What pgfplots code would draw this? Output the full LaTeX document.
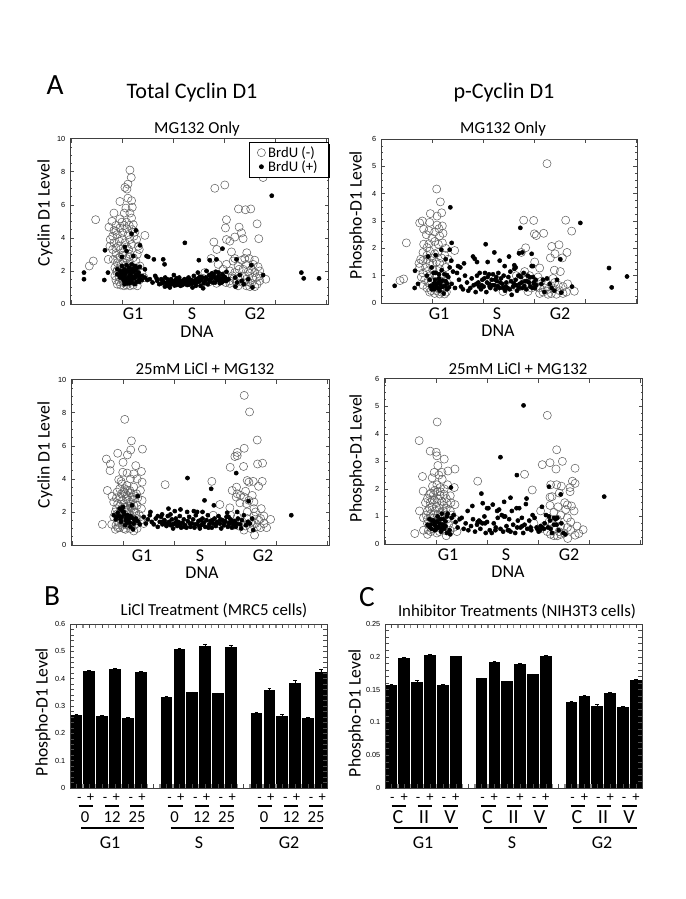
\documentclass[border=0pt]{standalone}
\usepackage{fontspec}
\setmainfont{Carlito}
\newfontfamily\arial{Liberation Sans}
\usepackage{pgfplots}
\pgfplotsset{compat=1.18}
\usetikzlibrary{shadows}

\pgfplotsset{
  frame/.style={
    scale only axis, axis line style={black!75,line width=0.5pt},
    tick style={black!70,line width=0.4pt},
    major tick length=3pt, minor tick length=1.5pt, tick align=inside,
    xtick pos=both, ytick pos=both,
    /pgf/number format/assume math mode=true,
    yticklabel style={font=\fontsize{5.5}{6}\selectfont\arial},
  },
  dna/.style={frame, width=194pt, height=124pt, ymin=0, xticklabels={}, minor tick num=3},
  neg/.style={only marks, mark=o, mark size=3.05pt, mark options={draw=black!62,line width=0.4pt}},
  pos/.style={only marks, mark=*, mark size=1.55pt, mark options={fill=black,draw=none}},
  bars/.style={frame, width=193pt, height=123pt, ymin=0, axis on top, xmin=-0.5, xmax=19.5,
    xtick={0,...,19}, minor x tick num=1, minor y tick num=4, minor tick length=3pt,
    every minor x tick/.append style={black!45,line width=1pt},
    xticklabel style={font=\fontsize{10}{10}\selectfont\arial, inner sep=0pt, text height=7pt, text depth=0pt, yshift=-2.6pt},
  },
  bar/.style={ybar, bar width=8pt, bar shift=0pt, fill=black, draw=black, line width=0pt,
    error bars/.cd, y dir=plus, y explicit, error bar style={black,line width=0.4pt},
    error mark options={rotate=90,mark size=1.4pt,black,line width=0.4pt}},
}
\newcommand{\lab}[1]{\fontsize{#1}{#1}\selectfont}
% tick signs sit a little right of their bars
\newcommand{\mb}{\hspace*{4.5pt}-}
\newcommand{\pb}{\hspace*{2pt}+}
\newcommand{\mc}{\hspace*{1.5pt}-}

\begin{document}
\begin{tikzpicture}
\useasboundingbox (0,0) rectangle (513.75pt,-674.25pt);

% top left
\begin{axis}[dna, at={(52.5pt,-228pt)}, ymax=10, xmin=120, xmax=897,
  xtick={125,278,430,583,738,890}, ytick={0,2,...,10},
  legend style={at={(1,0.98)}, anchor=north east, draw=black, line width=0.5pt, fill=white,
    drop shadow={shadow xshift=1pt,shadow yshift=-1pt,fill=black,opacity=1},
    font=\lab{11}, inner xsep=6pt, inner ysep=1pt, row sep=-3pt, legend cell align=left,
    /tikz/every even column/.append style={column sep=6pt}}]
\addplot[neg] coordinates {(178,2.3)(190,2.6)(197,5.1)(300,8.1)(304,7.65)(294,7.25)(285,7.05)(291,6.95)(294,6.4)(270,6.2)(305,6.25)(307,5.85)(288,5.8)(252,5.5)(283,5.5)(300,5.5)(305,5.2)(270,5.15)(246,5)(276,4.95)(290,4.95)(258,4.75)(310,4.8)(237,4.65)(270,4.6)(290,4.55)(252,4.45)(306,4.5)(315,4.35)(345,4.15)(262,4.2)(295,4.2)(241,3.9)(276,3.95)(300,3.9)(320,3.9)(252,3.7)(285,3.7)(240,3.5)(265,3.5)(305,3.6)(325,3.5)(248,3.3)(272,3.3)(296,3.3)(328,3.3)(258,3.05)(280,3.1)(300,3)(322,3)(235,2.7)(250,2.7)(270,2.85)(290,2.75)(310,2.8)(262,2.5)(280,2.5)(300,2.5)(255,2.2)(270,2.2)(290,2.2)(310,2.2)(330,2.3)(260,1.95)(280,1.9)(300,1.9)(320,1.9)(255,1.7)(268,1.6)(285,1.6)(305,1.6)(320,1.6)(268,1.35)(272,1.15)(290,1.15)(310,1.15)(322,1.1)(300,1.3)(280,1.3)
(258,4.4)(278,4.3)(283,4.75)(298,4.75)(248,4.1)(268,3.8)(312,4.1)(290,3.45)(258,3.4)(278,2.95)(263,2.75)(298,2.85)(318,2.6)(273,2.4)(288,2.35)(262,2.05)(312,2.05)(292,1.75)(274,1.8)(258,1.45)(276,1.5)(294,1.45)(312,1.4)(328,1.45)(262,1.2)(282,1.1)(300,1.1)(342,1.6)(336,1.9)
(555,7)(585,7.2)(700,7.65)(626,5.75)(647,5.7)(663,5.75)(590,5.1)(587,4.6)(628,4.65)(682,4.85)(635,4.3)(615,4.05)(640,3.95)(590,3.9)(600,3.8)(687,3.95)(552,3.75)(561,3.3)(605,3.15)(651,3.1)(544,2.75)(615,2.75)(636,2.65)(658,2.75)(675,2.65)(590,2.4)(565,2.4)(625,2.3)(650,2.4)(685,2.25)(580,2.1)(600,2)(640,2.1)(665,2.1)(690,2)(525,1.9)(555,1.8)(585,1.75)(615,1.9)(660,1.85)(520,1.55)(545,1.55)(575,1.5)(600,1.4)(630,1.6)(650,1.5)(680,1.6)(708,1.5)(600,1.25)(640,1.3)(665,1.25)(675,1.05)(650,1.1)(690,1.4)
(610,2.6)(645,2.75)(670,2.4)(628,2.1)(655,1.95)(675,1.9)(608,1.7)(645,1.7)(668,1.6)(690,1.7)(620,1.3)(655,1.35)(682,1.2)(612,1.55)(588,1.3)(560,1.25)(535,1.3)(505,1.35)(490,1.2)(625,1.1)(660,1.05)};
\addlegendentry{BrdU (-)}
\addplot[pos] coordinates {(162,1.9)(162,1.5)(225,3.25)(223,1.45)(234,1.9)(318,4.45)(305,4.25)(330,3.55)(285,3.45)(465,3.7)(578,3.35)(726,6.55)(815,1.9)(822,1.55)(868,1.55)(400,2.7)(404,2.4)(372,2.7)(350,2.9)(355,2.85)(507,2.65)(540,2.65)(560,2.7)(620,2.7)(665,2.35)(700,1.75)(276,2.85)(290,3.2)(310,2.9)
(262,2.1)(270,2.02)(276,2.3)(284,2.1)(290,2.35)(297,2.2)(305,2.4)(315,2.3)(322,2.2)(330,2.25)(345,2.1)(262,1.8)(270,1.7)(278,1.9)(286,1.8)(294,1.95)(302,1.8)(310,1.95)(318,1.8)(326,1.9)(336,1.7)(280,1.5)(288,1.35)(296,1.6)(304,1.45)(312,1.55)(320,1.35)(328,1.5)(284,1.2)(298,1.25)(315,1.2)(270,1.6)(345,1.6)(278,1.7)(283,1.62)(291,1.55)(299,1.72)(307,1.65)(316,1.62)(273,1.9)(281,2.02)(289,2)(300,1.98)(308,2.12)(318,2.05)(325,1.7)(292,1.25)(306,1.3)(282,1.4)(300,1.38)(328,1.35)(336,1.45)
(352,1.45)(360,1.5)(368,1.3)(376,1.7)(382,1.4)(388,1.2)(394,1.5)(400,1.3)(406,1.6)(412,1.1)(416,1.35)(420,1)(424,1.5)(428,1.25)(432,1.75)(436,1.4)(440,1.15)(444,1.3)(448,1.6)(452,1.1)(456,1.4)(460,1.25)(464,1.5)(468,1.35)(472,1.15)(476,1.6)(480,1.3)(484,1.45)(488,1)(492,1.7)(496,1.25)(500,1.5)(504,1.9)(508,1.35)(512,1.1)(518,1.6)(522,1.25)(526,1.4)(530,2)(534,1.2)(538,1.75)(542,1.5)(546,1.85)(550,1.3)(554,1.6)(558,1.95)(562,1.45)(566,1.7)(570,1.25)(574,1.55)(578,1.8)(582,1.4)(586,1.6)(590,1.95)(616,1.6)(622,1.3)(630,1.75)(636,1.4)(642,1.2)(655,1.5)(668,1)(617,1.05)(520,.95)(420,1.2)(405,1.05)(490,1.3)(445,1.45)(380,1.55)(440,1.55)(475,1.35)(395,1.25)(548,1.6)(572,1.4)
(398,1.42)(408,1.28)(414,1.48)(422,1.22)(427,1.38)(434,1.12)(438,1.28)(442,1.4)(447,1.18)(450,1.34)(458,1.15)(461,1.42)(466,1.22)(470,1.46)(474,1.25)(478,1.18)(482,1.4)(486,1.24)(494,1.42)(498,1.1)(502,1.32)(506,1.55)(510,1.65)(514,1.45)(528,1.6)(532,1.5)(544,1.65)(552,1.75)(560,1.55)(568,1.45)(576,1.3)(584,1.65)(590,1.4)(596,1.5)(556,1.3)(540,1.35)(548,1.8)(566,1.9)(580,1.55)};
\addlegendentry{BrdU (+)}
\end{axis}

% top right
\begin{axis}[dna, at={(285.75pt,-227.25pt)}, width=192pt, height=123pt, ymax=6, xmin=124, xmax=892,
  xtick={125,278,431,585,738,890}, ytick={0,...,6}]
\addplot[neg] coordinates {(181,.82)(192,.88)(200,2.2)(291,4.17)(302,3.7)(272,3.27)(306,3.3)(292,3.18)(240,2.93)(248,3)(270,2.95)(292,2.85)(308,2.82)(252,2.7)(268,2.65)(310,2.55)(300,2.45)(277,2.37)(252,2.15)(268,2.17)(296,2.15)(318,2)(345,1.92)(270,1.9)(250,1.85)(285,1.8)(243,1.6)(305,1.65)(325,1.6)(250,1.55)(270,1.45)(290,1.5)(258,1.3)(280,1.2)(300,1.25)(250,1.1)(270,1)(290,1)(255,.85)(275,.8)(305,.8)(320,.8)(262,.55)(275,.45)(290,.45)(305,.4)(320,.4)(270,.4)(240,1.3)
(260,2.5)(285,2.6)(298,2.72)(262,2.03)(285,2.25)(308,2.2)(262,1.75)(278,1.65)(295,1.85)(315,1.75)(238,1.45)(262,1.6)(280,1.45)(300,1.45)(318,1.3)(262,1.15)(285,1.05)(310,1.05)(245,.95)(265,.75)(290,.7)(250,.65)(280,.6)(310,.6)(285,.35)(300,.33)(315,.33)
(622,5.1)(552,3.03)(582,3.02)(678,3.03)(584,2.53)(590,2.47)(612,2.55)(696,2.63)(636,2.07)(658,2.13)(558,2.02)(632,1.65)(646,1.8)(668,1.65)(682,1.85)(545,1.85)(585,1.5)(600,1.28)(644,1.2)(662,1.15)(555,1.15)(530,1)(570,1)(605,.8)(640,.9)(620,.7)(684,.7)(704,.43)(656,.65)(590,.6)(610,.4)(635,.35)(650,.32)(670,.35)(600,.35)(565,.42)(540,.6)(515,.6)(490,.42)(625,.5)(670,.6)(580,.8)
(560,.85)(595,.95)(615,.55)(640,.55)(660,.45)(680,.4)(645,.75)(600,.55)(625,.32)(575,.55)};
\addplot[pos] coordinates {(332,3.5)(336,2.2)(438,2.15)(542,2.75)(722,2.93)(808,1.28)(862,.97)(816,.57)(165,.63)(226,1.18)(225,.55)(235,.7)(464,1.85)(508,1.7)(480,1.55)(400,1.7)(405,1.62)(548,1.85)(538,1.82)(576,1.8)(662,1.6)(330,1.95)(305,1.95)(265,1.7)(288,1.75)(318,1.6)(335,1.55)(355,1.35)(373,1.45)(362,1.3)(412,1.5)(444,1.5)(495,1.35)(524,1.38)(528,1.3)(580,1.35)(697,.6)(665,.38)(610,.85)
(262,1)(270,.85)(276,1.3)(282,.7)(288,1.1)(294,.55)(298,.9)(302,.7)(306,1.2)(310,.6)(314,1.05)(318,.8)(322,.5)(326,.95)(330,1.3)(336,.7)(340,1.15)(346,.55)(352,1.1)(358,.85)(364,.6)(370,.5)(376,1)(382,.75)(386,.45)(392,.55)(396,.9)(402,.65)(408,.4)(412,1)(416,.75)(420,1.1)(424,.5)(428,.85)(432,.6)(436,1.1)(440,.4)(444,.95)(448,.7)(452,.55)(456,.85)(460,1.05)(464,.65)(468,.5)(472,.8)(476,1.1)(480,.55)(484,.9)(488,.7)(492,1)(496,.45)(500,.75)(506,.95)(512,1.15)(516,.3)(520,.6)(524,1.25)(528,.85)(532,.45)(536,1)(540,.7)(544,.95)(548,.55)(552,1.1)(556,.8)(560,.5)(564,1)(568,.75)(572,.6)(576,1.35)(580,.95)(584,.7)(588,.85)(605,.7)(614,.4)(622,.9)(630,.7)(636,.55)(644,.45)(652,.85)(284,.5)(292,.7)(300,.45)(278,.6)(312,.35)(450,.6)(470,.95)(510,.5)(540,1)(586,.55)(300,.8)(282,1.1)
(272,.62)(280,.55)(286,.85)(290,.62)(296,.75)(304,.58)(308,.82)(316,.62)(322,.72)(328,.58)(284,.72)(276,.5)(298,1.05)(322,1.02)(410,.7)(418,.6)(426,.65)(434,.9)(442,.75)(448,1.05)(458,.65)(466,.85)(474,.62)(482,.75)(490,.55)(498,.6)(504,.55)(514,.8)(522,.72)(530,.65)(538,.55)(546,.75)(554,.62)(562,.8)(570,.95)(578,.55)(582,.75)(590,.65)};
\end{axis}

% middle left
\begin{axis}[dna, at={(53.25pt,-408.75pt)}, ymax=10, xmin=122, xmax=897,
  xtick={125,278,431,585,738,890}, ytick={0,2,...,10}]
\addplot[neg] coordinates {(216,1.25)(228,5.2)(240,4.9)(239,4.5)(283,7.6)(303,6.3)(301,5.75)(291,5.45)(262,5.55)(336,5.8)(278,5)(316,4.8)(333,4.45)(277,4.4)(290,4.35)(310,4.3)(265,3.95)(300,4)(320,4)(335,3.8)(231,3.3)(275,3.7)(290,3.6)(310,3.5)(260,3.2)(245,2.95)(330,3.3)(250,2.6)(270,2.9)(290,3)(310,3)(335,2.7)(262,2.5)(280,2.5)(300,2.5)(320,2.4)(333,2.2)(255,2)(270,2)(290,2)(310,2)(250,1.7)(265,1.6)(285,1.6)(300,1.65)(320,1.6)(244,1.25)(257,1.2)(275,1.2)(295,1.2)(312,1.2)(255,.95)(285,.95)(310,.85)(320,1)(340,1.3)(404,3.65)(544,3.85)(568,2.45)(548,1.8)
(268,3.4)(280,3.2)(298,3.3)(318,3.1)(272,3.85)(285,3.1)(300,3.15)(258,2.85)(276,2.7)(294,2.7)(308,2.75)(322,2.85)(268,2.35)(286,2.25)(304,2.25)(258,2.2)(276,1.85)(296,1.85)(316,1.95)(326,1.85)(262,1.4)(280,1.4)(298,1.45)(270,1.75)(290,1.35)(306,1.45)(268,1.05)(280,1)(300,1)(330,1.5)
(283,3.4)(292,3.3)(305,2.9)(273,3.1)(288,2.8)(300,2.35)(282,2.3)(272,2.15)(292,2.15)(310,2.4)(262,1.9)(280,1.75)(300,1.8)(318,1.75)(272,1.5)(288,1.45)(306,1.3)(320,1.3)(285,1.25)(262,1.05)
(641,9.05)(657,8.05)(680,6.35)(641,5.85)(620,5.6)(613,5.35)(620,5.4)(599,4.7)(639,4.75)(681,4.9)(696,4.95)(650,3.9)(668,3.85)(695,3.85)(618,3.5)(655,3.8)(684,3.55)(605,3.3)(620,3.1)(645,3.25)(617,2.9)(630,3)(665,3)(628,2.55)(648,2.5)(670,2.6)(692,2.2)(598,2.25)(670,2.2)(700,1.75)(720,1.55)(675,2)(650,2)(685,1.5)(700,1.3)(672,.6)(708,1.05)(690,1.05)(640,.9)(660,1)(600,1.8)(620,1.7)(675,1.3)(635,1.4)(580,1.3)(610,1.2)
(640,2.9)(655,2.7)(670,1.75)(650,1.6)(660,1.35)(690,1.6)(680,1.1)(665,1.25)(625,1.15)(645,1.15)(595,1.45)(565,1.3)};
\addplot[pos] coordinates {(471,4.05)(542,3.4)(617,4.35)(522,2.7)(550,2.4)(654,2.65)(782,1.8)(322,2.95)(305,2.4)(278,2.3)(414,2.2)(450,2.15)(433,2.05)(470,2)(490,2.05)(500,2)(516,2)(360,2)(395,1.85)(668,.9)(632,1)(620,2)
(250,1.8)(256,1.55)(262,1.95)(268,2.2)(274,1.7)(280,2)(286,1.5)(292,1.8)(298,1.35)(304,1.65)(310,1.3)(316,1.6)(322,1.45)(328,1.25)(272,1.4)(284,1.2)(300,1.1)(308,.95)(266,1.75)(276,2.05)(282,1.85)(288,1.65)(294,1.55)(300,1.75)(312,1.5)(258,1.7)(270,1.55)(290,1.35)
(340,1.7)(346,1.3)(352,1.55)(358,1.8)(364,1.4)(370,1.25)(376,1.6)(382,1.1)(388,1.4)(392,1.7)(396,1.25)(402,1.5)(408,1.15)(412,1.75)(416,1.4)(420,1.2)(424,1.55)(428,1)(432,1.3)(436,1.6)(440,1.15)(444,1.4)(448,1.75)(452,1.05)(456,1.35)(460,1.55)(464,1.2)(468,1.05)(472,1.45)(476,1.7)(480,1.1)(484,1.3)(488,1.55)(492,1.05)(496,1.8)(500,1.25)(504,1.45)(508,1)(512,1.2)(516,1.6)(520,1.35)(524,1.1)(528,1.5)(532,1.8)(536,1.25)(540,1.45)(544,1.05)(548,1.3)(552,1.6)(556,1.15)(560,1.4)(564,1.75)(568,1.3)(572,1)(576,1.5)(580,1.2)(584,1.45)(588,1.7)(592,1.1)(596,1.35)(600,1.55)(604,1.05)(608,1.25)(612,1.45)(616,1.1)(622,1.6)(628,1.25)(634,1.5)(640,1.8)(646,1.2)(652,1.4)(658,1.3)(665,1.6)(382,1.75)(420,1.85)(405,1.3)(445,1.25)(510,1.5)(590,1.95)(595,1.25)
(395,1.4)(410,1.3)(426,1.25)(438,1.4)(450,1.2)(462,1.1)(478,1.3)(494,1.25)(506,1.15)(518,1.3)(534,1.05)(546,1.5)(558,1.3)(570,1.55)(582,1.35)(594,1.7)(606,1.4)(618,1.3)};
\end{axis}

% middle right
\begin{axis}[dna, at={(288pt,-408pt)}, ymax=6, xmin=132, xmax=905,
  xtick={135,288,441,593,746,899}, ytick={0,...,6}]
\addplot[neg] coordinates {(224,.38)(237,3.75)(291,4.43)(270,3.37)(288,3.33)(290,3.2)(312,3.08)(247,2.45)(344,2.72)(293,2.85)(323,2.65)(305,2.6)(276,2.4)(306,2.35)(249,1.92)(277,2.1)(322,2.15)(342,2.05)(300,2.05)(280,1.8)(300,1.75)(330,1.75)(256,1.5)(238,1.2)(270,1.5)(290,1.5)(320,1.5)(344,1.43)(262,1.2)(285,1.2)(310,1.2)(330,1.2)(250,.95)(270,.95)(295,.9)(320,.9)(345,.9)(250,.5)(262,.35)(275,.65)(290,.4)(305,.65)(318,.3)(350,.45)(412,2.28)(552,2.53)(575,1.96)
(282,2.6)(296,2.5)(312,2)(290,2.15)(272,1.85)(292,1.9)(312,1.8)(262,1.65)(282,1.6)(305,1.55)(332,1.5)(275,1.35)(298,1.3)(318,1.3)(258,1.05)(280,1.05)(305,1)(335,1.05)(262,.75)(282,.8)(300,.75)(325,.7)(272,.45)(298,.45)(340,.6)
(268,1.8)(284,1.95)(300,1.9)(318,1.65)(276,1.6)(292,1.65)(310,1.4)(268,1.3)(288,1.35)(302,1.1)(272,1.1)(292,1.05)(315,1.05)(262,.9)(282,.95)(275,.55)(290,.6)(312,.5)(265,.5)(330,.5)
(620,4.67)(648,3.42)(605,2.88)(628,2.95)(665,3)(646,2.72)(703,2.75)(695,2.28)(703,2.2)(630,2.15)(648,2.15)(662,2.1)(688,2.05)(656,1.85)(688,1.9)(628,1.7)(634,1.72)(672,1.5)(680,1.42)(692,1.38)(628,1.4)(652,1.35)(640,1.15)(700,1.2)(680,.95)(600,1.2)(625,.8)(650,.9)(680,.6)(709,.65)(727,.52)(714,.38)(703,.32)(681,.2)(660,.35)(640,.3)(620,.45)(600,.55)(580,.75)(660,.65)(640,.55)
(675,1.25)(660,1.05)(690,.8)(610,.65)(635,.75)(655,.45)(690,.5)(630,.35)(670,.4)(650,.3)};
\addplot[pos] coordinates {(549,5.03)(480,3.15)(529,2.5)(625,2.08)(660,1.8)(790,1.72)(332,2.05)(423,1.83)(558,1.65)(491,1.53)(510,1.68)(427,1.48)(396,1.38)(457,1.43)(382,1.2)
(262,.7)(268,.9)(274,.55)(280,.85)(286,.65)(292,1)(298,.75)(304,.55)(310,.9)(316,.65)(322,1.1)(328,.5)(334,.95)(340,1.05)(272,.7)(284,.5)(296,.6)(308,.7)(320,.4)(330,.35)(276,.85)(283,.72)(290,.82)(294,.62)(300,.9)(306,.7)(312,.55)(288,.55)(302,.45)(268,.62)(316,.82)
(346,.8)(352,.6)(358,.9)(364,.95)(370,.55)(376,.75)(384,.5)(392,.65)(398,.9)(404,.45)(410,.7)(416,.85)(420,.55)(426,.75)(432,1)(436,.4)(440,.8)(444,1.3)(448,.5)(454,.4)(460,.75)(466,.6)(472,.95)(476,1.25)(480,.55)(484,1.05)(488,.45)(494,1)(498,.65)(502,.5)(506,.9)(510,.45)(514,1.2)(518,.7)(524,.4)(528,1.3)(532,.85)(536,1.3)(540,.6)(544,.95)(548,.4)(552,.7)(556,1.45)(560,.55)(566,.85)(572,.5)(576,1.05)(582,.95)(588,.6)(594,.45)(600,.65)(604,1.35)(610,.55)(616,1.05)(622,.6)(628,.85)(634,.4)(640,.95)(648,.7)(654,.5)(662,.75)(668,.4)(674,.35)(440,1.3)(412,.8)(470,1.2)(625,1)(645,.9)(305,1.1)(320,1)
(420,.8)(434,.75)(465,.5)(490,1)(505,.5)(530,.6)(545,.65)(570,.6)(590,.55)(598,.5)(605,.6)(612,.75)(630,.55)(640,.7)(650,.95)};
\end{axis}

% bars B
\begin{axis}[bars, at={(52.5pt,-591pt)}, ymax=0.6, ytick={0,0.1,...,0.6},
  xticklabels={\mb,\pb,\mb,\pb,\mb,\pb,,\mb,\pb,\mb,\pb,\mb,\pb,,\mb,\pb,\mb,\pb,\mb,\pb}]
\addplot[bar] coordinates {(0,.267)+-(0,.003)(1,.425)+-(0,.004)(2,.263)+-(0,.002)(3,.433)+-(0,.006)(4,.256)+-(0,.002)(5,.423)+-(0,.005)(7,.332)+-(0,.003)(8,.505)+-(0,.008)(9,.35)+-(0,.002)(10,.518)+-(0,.009)(11,.345)+-(0,.003)(12,.513)+-(0,.009)(14,.273)+-(0,.004)(15,.355)+-(0,.009)(16,.263)+-(0,.005)(17,.383)+-(0,.012)(18,.254)+-(0,.006)(19,.423)+-(0,.011)};
\end{axis}

% bars C
\begin{axis}[bars, at={(288.75pt,-591pt)}, ymax=0.25, ytick={0,0.05,...,0.25},
  yticklabels={0,0.05,0.1,0.15,0.2,0.25},
  xticklabels={\mc,+,\mc,+,\mc,+,,\mc,+,\mc,+,\mc,+,,\mc,+,\mc,+,\mc,+}]
\addplot[bar] coordinates {(0,.156)+-(0,.002)(1,.197)+-(0,.003)(2,.161)+-(0,.003)(3,.202)+-(0,.002)(4,.156)+-(0,.002)(5,.2)+-(0,.001)(7,.167)+-(0,.001)(8,.192)+-(0,.001)(9,.162)+-(0,.001)(10,.189)+-(0,.001)(11,.173)+-(0,.001)(12,.201)+-(0,.001)(14,.13)+-(0,.002)(15,.139)+-(0,.002)(16,.124)+-(0,.003)(17,.144)+-(0,.002)(18,.123)+-(0,.002)(19,.164)+-(0,.002)};
\end{axis}

% annotations in image pixels
\begin{scope}[x=0.75pt,y=-0.75pt,inner sep=0pt]
\node[font=\lab{22}] at (55,85) {A};
\node[font=\lab{22}] at (52,596) {B};
\node[font=\lab{22}] at (367,597) {C};
\node[font=\lab{16.6}] at (192,93) {Total Cyclin D1};
\node[font=\lab{16.6}] at (504,93) {p-Cyclin D1};
\foreach \x/\y/\t in {197/129/MG132 Only,503/129/MG132 Only,205/369/25mM LiCl + MG132,518/369/25mM LiCl + MG132,214/611/LiCl Treatment (MRC5 cells),517/612/Inhibitor Treatments (NIH3T3 cells)}
  \node[font=\lab{12.6}] at (\x,\y) {\t};
\foreach \x/\y/\t in {133/314/G1,192/314/S,255/314/G2,197/332/DNA,439/314/G1,497/314/S,560/314/G2,498/331/DNA,142/556/G1,200/556/S,263/556/G2,202/573/DNA,448/555/G1,506/555/S,569/555/G2,508/572/DNA}
  \node[font=\lab{13.5}] at (\x,\y) {\t};
\foreach \x/\y/\t in {45/213/Cyclin D1 Level,357/215/Phospho-D1 Level,45/455/Cyclin D1 Level,357/458/Phospho-D1 Level,43/712/Phospho-D1 Level,356/713/Phospho-D1 Level}
  \node[font=\lab{13.2},rotate=90] at (\x,\y) {\t};
% treatment rows under B and C
\foreach \o in {0,89.5,179} {
  \draw[line width=1.5pt] (78.7+\o,806) -- (93.3+\o,806) (105+\o,806) -- (119.3+\o,806) (130+\o,806) -- (144.3+\o,806);
  \draw[line width=1.5pt] (81+\o,828) -- (144.3+\o,828);
  \node[font=\lab{12.5}] at (85+\o,817) {0};
  \node[font=\lab{12.5}] at (112+\o,817) {12};
  \node[font=\lab{12.5}] at (137+\o,817) {25};
  \draw[line width=1.5pt] (391.7+\o,806) -- (406.3+\o,806) (417.7+\o,806) -- (432.3+\o,806) (443.3+\o,806) -- (458+\o,806);
  \draw[line width=1.5pt] (394.3+\o,828) -- (457.7+\o,828);
  \node[font=\lab{15}] at (398+\o,817) {C};
  \node[font=\lab{15}] at (424+\o,817) {II};
  \node[font=\lab{15}] at (450+\o,817) {V};
}
\foreach \x/\t in {110/G1,199/S,289/G2,423/G1,512/S,602/G2}
  \node[font=\lab{13.5}] at (\x,843) {\t};
\end{scope}
\end{tikzpicture}
\end{document}
